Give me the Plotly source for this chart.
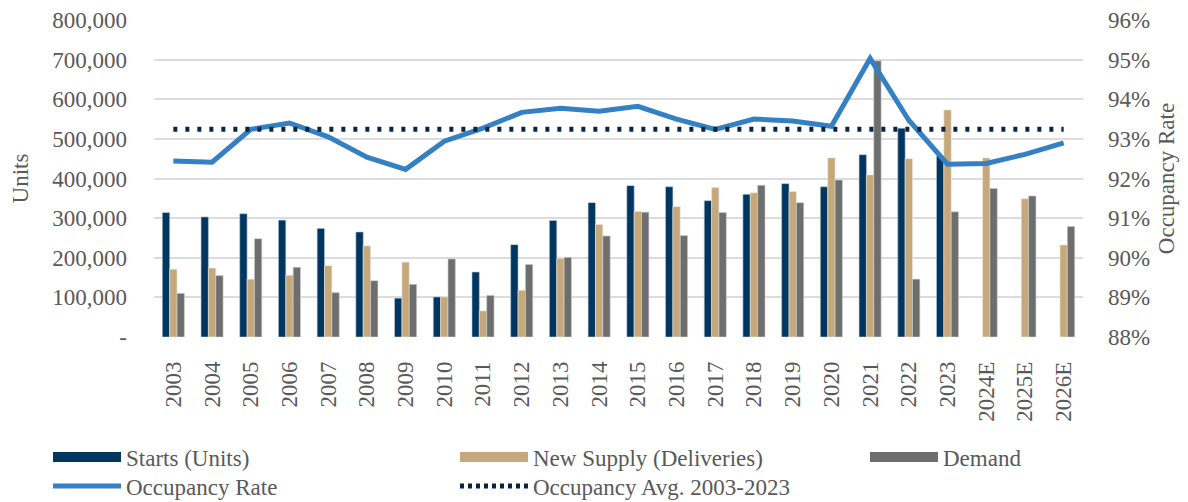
import plotly.graph_objects as go

years = ["2003","2004","2005","2006","2007","2008","2009","2010","2011","2012","2013","2014",
         "2015","2016","2017","2018","2019","2020","2021","2022","2023","2024E","2025E","2026E"]
starts = [314000,303000,311000,295000,274000,265000,98000,101000,164000,233000,294000,339000,
          382000,379000,344000,360000,387000,379000,460000,527000,457000,None,None,None]
supply = [171000,174000,146000,156000,180000,230000,189000,101000,66000,118000,198000,284000,
          317000,329000,377000,364000,367000,452000,409000,450000,573000,452000,349000,232000]
demand = [110000,155000,248000,176000,112000,142000,133000,197000,105000,183000,201000,255000,
          315000,256000,314000,383000,339000,396000,697000,146000,316000,375000,356000,279000]
occupancy = [92.44,92.41,93.24,93.40,93.05,92.54,92.23,92.94,93.27,93.67,93.77,93.70,
             93.82,93.50,93.24,93.50,93.45,93.32,95.03,93.47,92.36,92.38,92.61,92.90]
occ_avg = [93.24]*len(years)

left_ticks = [0,100000,200000,300000,400000,500000,600000,700000,800000]
left_text = ["-","100,000","200,000","300,000","400,000","500,000","600,000","700,000","800,000"]
right_ticks = [88,89,90,91,92,93,94,95,96]
right_text = [f"{t}%" for t in right_ticks]

FONT = "Liberation Serif"
TXT = "#595959"
FS = 23
C_START, C_SUP, C_DEM = "#003660", "#C5A97C", "#6E6E6E"
C_OCC, C_AVG = "#3380C4", "#0B2540"

fig = go.Figure()
fig.add_trace(go.Bar(x=years, y=starts, name="Starts (Units)", showlegend=False, legendgroup="s",
                     marker=dict(color=C_START, line=dict(color="#b8c4d4", width=0.6))))
fig.add_trace(go.Bar(x=years, y=supply, name="New Supply (Deliveries)", showlegend=False, legendgroup="n",
                     marker=dict(color=C_SUP, line=dict(color="#efe6d6", width=0.6))))
fig.add_trace(go.Bar(x=years, y=demand, name="Demand", showlegend=False, legendgroup="d",
                     marker=dict(color=C_DEM, line=dict(color="#cfcfcf", width=0.6))))
fig.add_trace(go.Scatter(x=years, y=occupancy, name="Occupancy Rate", yaxis="y2", mode="lines",
                         line=dict(color=C_OCC, width=5), showlegend=False, legendgroup="o"))
fig.add_trace(go.Scatter(x=years, y=occ_avg, name="Occupancy Avg. 2003-2023", yaxis="y2", mode="lines",
                         line=dict(color=C_AVG, width=5, dash="4px,8px"), showlegend=False, legendgroup="a"))

# legend entries (no data; legend swatches only)
def proxy(name, color, width, dash, legend, group):
    fig.add_trace(go.Scatter(x=[None], y=[None], name=name, mode="lines", legendgroup=group,
                             line=dict(color=color, width=width, dash=dash), legend=legend))

proxy("Starts (Units)", C_START, 12, "solid", "legend", "s")
proxy("New Supply (Deliveries)", C_SUP, 12, "solid", "legend2", "n")
proxy("Demand", C_DEM, 12, "solid", "legend3", "d")
proxy("Occupancy Rate", C_OCC, 5, "solid", "legend4", "o")
proxy("Occupancy Avg. 2003-2023", C_AVG, 5, "4px,4px", "legend5", "a")

W, H = 1180, 494  # page body has an 8px margin
leg_common = dict(orientation="v", yref="container", yanchor="middle", xanchor="left", itemwidth=68,
                  font=dict(size=FS, color=TXT), bgcolor="rgba(0,0,0,0)")
X1, X2, X3 = -0.1141, 0.324, 0.7653
Y1, Y2 = 1 - 449/H, 1 - 478/H

fig.update_layout(
    width=W, height=H,
    margin=dict(l=146, r=105, t=12, b=165),
    paper_bgcolor="white", plot_bgcolor="white",
    font=dict(family=FONT, size=FS, color=TXT),
    barmode="group", bargap=0.43, bargroupgap=0,
    xaxis=dict(tickangle=-90, showgrid=False, ticks="", ticklabelstandoff=19, automargin=False,
               tickfont=dict(size=FS, color=TXT)),
    yaxis=dict(range=[0, 800000], tickvals=left_ticks, ticktext=left_text, automargin=False,
               showgrid=True, gridcolor="#dcdce0", gridwidth=1.5, zeroline=False,
               ticklabelstandoff=26,
               title=dict(text="Units", font=dict(size=FS, color=TXT), standoff=19)),
    yaxis2=dict(range=[88, 96], tickvals=right_ticks, ticktext=right_text, overlaying="y", side="right",
                showgrid=False, zeroline=False, ticklabelstandoff=24, automargin=False,
                title=dict(text="Occupancy Rate", font=dict(size=FS, color=TXT), standoff=8)),
    legend=dict(x=X1, y=Y1, **leg_common),
    legend2=dict(x=X2, y=Y1, **leg_common),
    legend3=dict(x=X3, y=Y1, **leg_common),
    legend4=dict(x=X1, y=Y2, **leg_common),
    legend5=dict(x=X2, y=Y2, **leg_common),
    showlegend=True,
)

fig.write_html("out.html")
